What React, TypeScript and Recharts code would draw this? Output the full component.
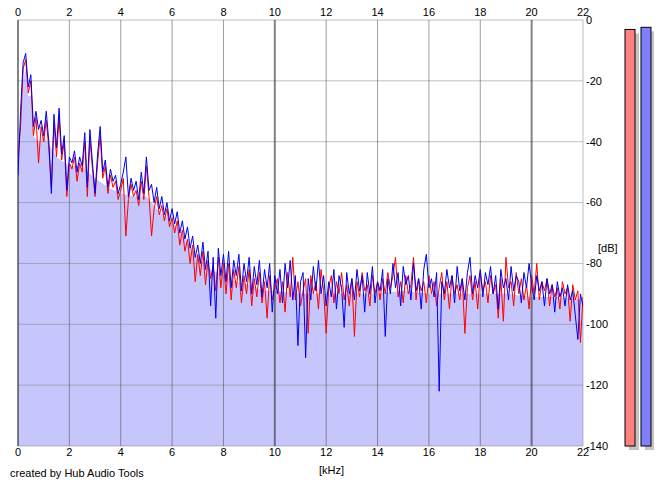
import {
  ComposedChart,
  BarChart,
  Bar,
  Line,
  Area,
  XAxis,
  YAxis,
  ReferenceLine,
} from "recharts";

// spectrum bins every 0.1 kHz, 0..22 kHz
const BIN_KHZ = 0.1;

const LEFT_DB = [
  -45, -35, -16, -13, -24, -20, -38, -32, -47, -35, -40,
  -33, -42, -55, -34, -45, -32, -46, -40, -58, -47,
  -49, -45, -53, -47, -50, -40, -58, -39, -49, -58,
  -47, -38, -52, -48, -57, -51, -55, -53, -59, -56,
  -52, -71, -59, -54, -58, -56, -61, -53, -59, -48,
  -58, -71, -62, -58, -64, -61, -66, -62, -68, -65,
  -70, -66, -74, -69, -76, -72, -80, -74, -86, -77,
  -84, -76, -87, -79, -85, -81, -89, -78, -88, -80,
  -90, -80, -92, -82, -88, -81, -93, -84, -90, -82,
  -94, -85, -91, -83, -93, -86, -98, -84, -92, -88,
  -85, -93, -86, -96, -83, -91, -78, -92, -86, -94,
  -89, -85, -103, -84, -90, -86, -95, -82, -89, -103,
  -88, -84, -93, -86, -90, -83, -92, -87, -94, -85,
  -104, -86, -91, -83, -89, -87, -94, -84, -90, -86,
  -92, -85, -90, -83, -88, -84, -78, -91, -86, -93,
  -84, -90, -87, -78, -92, -85, -89, -86, -93, -84,
  -90, -86, -94, -88, -83, -92, -86, -95, -84, -90,
  -87, -92, -85, -103, -88, -84, -92, -86, -95, -83,
  -89, -86, -93, -84, -90, -87, -98, -85, -99, -78,
  -88, -86, -94, -83, -90, -85, -92, -87, -95, -84,
  -90, -80, -92, -86, -89, -85, -94, -87, -91, -88,
  -95, -86, -90, -88, -99, -87, -92, -89, -106, -91,
];

const RIGHT_DB = [
  -51, -30, -14, -11, -22, -18, -35, -30, -36, -33, -38,
  -30, -40, -57, -31, -42, -29, -44, -38, -56, -45,
  -47, -43, -50, -45, -48, -37, -55, -36, -47, -57,
  -44, -35, -50, -46, -55, -49, -53, -51, -57, -54,
  -50, -45, -58, -52, -56, -53, -59, -50, -57, -45,
  -56, -54, -60, -55, -62, -58, -64, -60, -66, -62,
  -67, -63, -70, -66, -72, -68, -75, -71, -78, -74,
  -80, -73, -82, -76, -94, -78, -98, -75, -84, -77,
  -86, -76, -88, -79, -84, -77, -89, -80, -86, -78,
  -90, -81, -87, -79, -91, -82, -88, -80, -96, -84,
  -90, -82, -93, -80, -88, -79, -92, -84, -107, -86,
  -83, -111, -85, -92, -81, -89, -79, -90, -84, -94,
  -86, -91, -82, -95, -84, -88, -101, -83, -90, -85,
  -92, -82, -89, -84, -96, -83, -90, -81, -93, -86,
  -89, -82, -104, -85, -90, -80, -88, -83, -94, -81,
  -87, -84, -92, -80, -89, -85, -95, -82, -77, -88,
  -85, -91, -83, -122, -86, -90, -82, -88, -84, -93,
  -81, -89, -85, -92, -83, -78, -90, -84, -88, -82,
  -91, -83, -87, -81, -90, -84, -95, -82, -88, -85,
  -92, -81, -89, -84, -86, -93, -83, -88, -80, -87,
  -92, -84, -89, -86, -94, -85, -90, -87, -96, -86,
  -91, -88, -94, -87, -92, -89, -97, -105, -90, -94,
];

// smoothed envelope used for the shaded area
const FILL_KHZ = [0, 0.1, 0.2, 0.3, 0.4, 0.5, 0.6, 0.8, 1, 1.5, 2, 2.5, 3, 3.5, 4, 4.5, 5, 5.5, 6, 6.5, 7, 7.5, 8, 8.5, 9, 9.5, 10, 11, 12, 13, 14, 15, 16, 17, 18, 19, 20, 21, 22];
const FILL_DB = [-48, -35, -20, -16, -25, -25, -38, -40, -38, -45, -48, -48, -52, -55, -57, -58, -58, -63, -66, -72, -78, -82, -84, -86, -87, -89, -89, -90, -90, -90, -90, -89, -90, -90, -90, -90, -91, -91, -92];

const KHZ_TICKS = [0, 2, 4, 6, 8, 10, 12, 14, 16, 18, 20, 22];
const DB_TICKS = [0, -20, -40, -60, -80, -100, -120, -140];
const MINOR_KHZ = [2, 4, 6, 8, 12, 14, 16, 18];
const MAJOR_KHZ = [0, 10, 20];

const METER_LABELS = ["L", "R"];
const METER_DB = [-3.1, -2.4];
const METER_COLORS = ["#ff8080", "#8080ff"];

const leftData = LEFT_DB.map((v, i) => ({ f: +(i * BIN_KHZ).toFixed(1), v }));
const rightData = RIGHT_DB.map((v, i) => ({ f: +(i * BIN_KHZ).toFixed(1), v }));
const fillData = FILL_KHZ.map((f, i) => ({ f, v: FILL_DB[i] }));
const meterData = METER_LABELS.map((ch, i) => ({ ch, v: [-140, METER_DB[i]] }));

const FONT = "'Liberation Sans', Arial, sans-serif";
const tick = { fontSize: 11, fill: "#000", fontFamily: FONT };

function MeterBar(props: any) {
  const { x, y, width, height, index } = props;
  return (
    <g>
      <rect x={x + 4} y={y + 4} width={width} height={height} fill="#c4c4c0" />
      <rect x={x} y={y} width={width} height={height} fill={METER_COLORS[index]} stroke="#000" strokeWidth={1} />
    </g>
  );
}

export default function App() {
  return (
    <div style={{ position: "absolute", left: 0, top: 0, width: 665, height: 487, background: "#fff", fontFamily: FONT }}>
      <ComposedChart width={665} height={487} margin={{ top: 0, right: 0, bottom: 21, left: 18 }}>
        <XAxis
          dataKey="f"
          type="number"
          domain={[0, 22]}
          ticks={KHZ_TICKS}
          interval={0}
          height={20}
          tick={tick}
          tickLine={false}
          axisLine={false}
          tickSize={0}
          tickMargin={2}
          allowDataOverflow
        />
        <XAxis
          xAxisId="top"
          dataKey="f"
          orientation="top"
          type="number"
          domain={[0, 22]}
          ticks={KHZ_TICKS}
          interval={0}
          height={20}
          tick={tick}
          tickLine={false}
          axisLine={false}
          tickSize={0}
          tickMargin={4}
          allowDataOverflow
        />
        <YAxis
          orientation="right"
          type="number"
          domain={[-140, 0]}
          ticks={DB_TICKS}
          interval={0}
          width={82}
          tick={{ ...tick, textAnchor: "start" }}
          tickLine={false}
          axisLine={false}
          tickSize={0}
          tickMargin={3}
          allowDataOverflow
        />
        <Area
          data={fillData}
          dataKey="v"
          type="linear"
          stroke="none"
          fill="#c6c6fc"
          fillOpacity={1}
          baseValue={-140}
          isAnimationActive={false}
        />
        {DB_TICKS.map((d) => (
          <ReferenceLine key={"h" + d} y={d} stroke="#808080" strokeOpacity={0.5} />
        ))}
        <ReferenceLine x={22} stroke="#808080" strokeOpacity={0.5} />
        {MINOR_KHZ.map((k) => (
          <ReferenceLine key={"v" + k} x={k} stroke="#404040" strokeOpacity={0.5} />
        ))}
        {MAJOR_KHZ.map((k) => (
          <ReferenceLine key={"m" + k} x={k} stroke="#303030" strokeOpacity={0.6} strokeWidth={2} />
        ))}
        {/* invisible series so the top frequency axis has something to scale */}
        <Line xAxisId="top" data={fillData} dataKey="v" stroke="none" dot={false} activeDot={false} isAnimationActive={false} />
        <Line data={leftData} dataKey="v" type="linear" stroke="#ff0000" strokeWidth={1} dot={false} activeDot={false} isAnimationActive={false} />
        <Line data={rightData} dataKey="v" type="linear" stroke="#0000f0" strokeWidth={1} dot={false} activeDot={false} isAnimationActive={false} />
      </ComposedChart>

      <div style={{ position: "absolute", left: 622, top: 0 }}>
        <BarChart width={32} height={487} data={meterData} margin={{ top: 20, right: 0, bottom: 41, left: 0 }} barCategoryGap={0}>
          <XAxis dataKey="ch" hide />
          <YAxis type="number" domain={[-140, 0]} hide />
          <Bar dataKey="v" barSize={10} shape={<MeterBar />} isAnimationActive={false} />
        </BarChart>
      </div>

      <div style={{ position: "absolute", left: 598, top: 243, fontSize: 11, lineHeight: "11px" }}>[dB]</div>
      <div style={{ position: "absolute", left: 319, top: 465, fontSize: 11, lineHeight: "11px" }}>[kHz]</div>
      <div style={{ position: "absolute", left: 10, top: 468, fontSize: 11, lineHeight: "11px" }}>created by Hub Audio Tools</div>
    </div>
  );
}
